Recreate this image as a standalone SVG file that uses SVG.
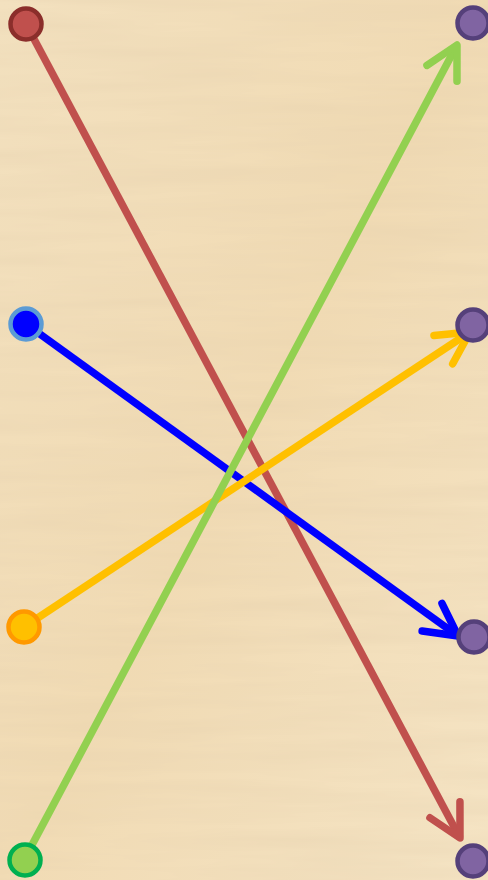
<svg xmlns="http://www.w3.org/2000/svg" width="488" height="880" viewBox="0 0 488 880">
  <defs>
    <linearGradient id="bg" x1="0" y1="0" x2="1" y2="1">
      <stop offset="0" stop-color="#f3e1bf"/>
      <stop offset="0.5" stop-color="#f1dbb4"/>
      <stop offset="1" stop-color="#f5e4c4"/>
    </linearGradient>
    <filter id="paper" x="0" y="0" width="100%" height="100%">
      <feTurbulence type="fractalNoise" baseFrequency="0.004 0.06" numOctaves="3" seed="7" result="n"/>
      <feColorMatrix in="n" type="matrix" values="0 0 0 0 0.75  0 0 0 0 0.6  0 0 0 0 0.4  0 0 0 0.45 -0.12"/>
    </filter>
    <marker id="arrRed" markerUnits="userSpaceOnUse" orient="auto" markerWidth="60" markerHeight="60" refX="0" refY="0" viewBox="-45 -30 60 60" overflow="visible">
      <path d="M-32,-17 L0,0 L-32,17" class="head" stroke="#c0504d"/>
    </marker>
    <marker id="arrBlue" markerUnits="userSpaceOnUse" orient="auto" markerWidth="60" markerHeight="60" refX="0" refY="0" viewBox="-45 -30 60 60" overflow="visible">
      <path d="M-32,-17 L0,0 L-32,17" class="head" stroke="#0000ff"/>
    </marker>
    <marker id="arrYellow" markerUnits="userSpaceOnUse" orient="auto" markerWidth="60" markerHeight="60" refX="0" refY="0" viewBox="-45 -30 60 60" overflow="visible">
      <path d="M-32,-17 L0,0 L-32,17" class="head" stroke="#ffc000"/>
    </marker>
    <marker id="arrGreen" markerUnits="userSpaceOnUse" orient="auto" markerWidth="60" markerHeight="60" refX="0" refY="0" viewBox="-45 -30 60 60" overflow="visible">
      <path d="M-32,-17 L0,0 L-32,17" class="head" stroke="#92d050"/>
    </marker>
  </defs>
  <style>
    .head { fill: none; stroke-width: 7.5; stroke-linecap: round; stroke-linejoin: round; }
    .conn { fill: none; stroke-width: 7.5; stroke-linecap: butt; }
    .node { stroke-width: 4.5; }
    .target { fill: #8064a2; stroke: #55407a; }
  </style>
  <rect width="488" height="880" fill="url(#bg)"/>
  <rect width="488" height="880" filter="url(#paper)"/>

  <g id="connectors">
    <line class="conn" x1="26" y1="24" x2="460" y2="838" stroke="#c0504d" marker-end="url(#arrRed)"/>
    <line class="conn" x1="26" y1="324" x2="458" y2="636" stroke="#0000ff" marker-end="url(#arrBlue)"/>
    <line class="conn" x1="24" y1="627" x2="470" y2="332" stroke="#ffc000" marker-end="url(#arrYellow)"/>
    <line class="conn" x1="24" y1="860" x2="457" y2="45" stroke="#92d050" marker-end="url(#arrGreen)"/>
  </g>

  <g id="node-red"><circle class="node" cx="26" cy="24" r="15.5" fill="#c0504d" stroke="#8b2e2b"/></g>
  <g id="node-blue"><circle class="node" cx="26" cy="324" r="15.5" fill="#0000ff" stroke="#5b9bd5"/></g>
  <g id="node-yellow"><circle class="node" cx="24" cy="627" r="15.5" fill="#ffc000" stroke="#ff9900"/></g>
  <g id="node-green"><circle class="node" cx="25" cy="860" r="15.5" fill="#92d050" stroke="#00b050"/></g>

  <g id="node-right-1"><circle class="node target" cx="473" cy="23" r="15.5"/></g>
  <g id="node-right-2"><circle class="node target" cx="473" cy="325" r="15.5"/></g>
  <g id="node-right-3"><circle class="node target" cx="474" cy="637" r="15.5"/></g>
  <g id="node-right-4"><circle class="node target" cx="473" cy="861" r="15.5"/></g>
</svg>
